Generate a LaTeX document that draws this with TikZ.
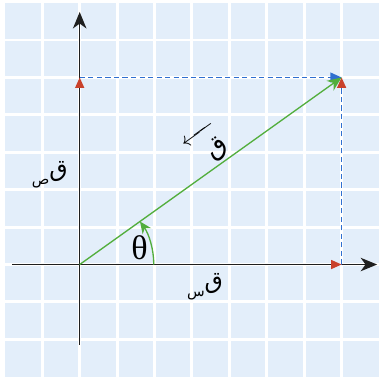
\documentclass[tikz,border=0pt]{standalone}
\usepackage{fontspec}
\usepackage{xcolor}
\usetikzlibrary{arrows.meta,positioning,calc}
\setmainfont{Liberation Serif}
\newfontfamily\arabicfont[Script=Arabic]{DejaVu Sans}
\TeXXeTstate=1
\definecolor{sheet}      {HTML}{E3EEFA}
\definecolor{axisink}    {HTML}{1F1F1F}
\definecolor{forcegreen} {HTML}{52AE3C}
\definecolor{partred}    {HTML}{C9412B}
\definecolor{guideblue}  {HTML}{2F6FD0}
\tikzset{
  gridline/.style={white,line width=2.2pt},
  axisline/.style={axisink,line width=1.1pt},
  axistip/.style={axisline,-{Stealth[length=4.4mm,width=3.6mm,inset=1.3mm]}},
  parttip/.style={-{Triangle[length=2.8mm,width=2.4mm,color=partred]}},
  guideline/.style={guideblue,line width=1.1pt,dash pattern=on 4pt off 2.5pt},
  forceline/.style={forcegreen,line width=1pt,-{Stealth[length=3.8mm,width=3.2mm]}},
  arabiclabel/.style={inner sep=1pt,font=\arabicfont\fontsize{18}{20}\selectfont}
}
\begin{document}
\begin{tikzpicture}
      \useasboundingbox (-2.13,-3.02) rectangle (8,7.07);
      \fill[sheet] (-2,-3) rectangle (8,7);
      \foreach \x in {-1,...,7} \draw[gridline] (\x,-3) -- (\x,7);
      \foreach \y in {-2,...,6} \draw[gridline] (-2,\y) -- (8,\y);
      % points of the force and its parts
      \coordinate (O)  at (0,0);
      \coordinate (Fx) at (7,0);
      \coordinate (Fy) at (0,5);
      \coordinate (F)  at (7,5);
      \coordinate (xl) at (-1.8,0);
      \coordinate (xr) at (7.95,0);
      \coordinate (yb) at (0,-2.15);
      \coordinate (yt) at (0,6.75);
      \coordinate (arcstart) at (1.98,0);
      % axes
      \draw[axistip] (xl) -- (xr);
      \draw[axistip] (yb) -- (yt);
      % guides
      \draw[guideline,-{Triangle[length=3mm,width=2.6mm]}] (Fy) -- (F);
      \draw[guideline,parttip] (Fx) -- (F);
      % parts on the axes
      \draw[axisline,parttip] (O) -- (Fx);
      \draw[axisline,parttip] (O) -- (Fy);
      % the force
      \draw[forceline] (O) -- (F);
      \draw[forcegreen,line width=1pt,-{Stealth[length=3.2mm,width=2.8mm]}]
        (arcstart) arc[start angle=0,end angle=35.5,radius=1.98];
      % labels
      \node (theta) at (1.6,0.45) {\fontsize{26}{28}\selectfont θ};
      \node[arabiclabel] (fylabel) at (-0.8,2.4)
        {\raisebox{-6pt}{\fontsize{11}{12}\selectfont\beginR ص\endR}\beginR ق\endR};
      \node[arabiclabel] (fxlabel) at (3.35,-0.6)
        {\raisebox{-6pt}{\fontsize{11}{12}\selectfont\beginR س\endR}\beginR ق\endR};
      \node[arabiclabel,rotate=35.5] (flabel) at (3.4,3.15)
        {$\overleftarrow{\hbox{\arabicfont\fontsize{20}{22}\selectfont\rule{0pt}{19pt}\hspace{12pt}\beginR ق\endR\hspace{1pt}}}$};
\end{tikzpicture}
\end{document}
